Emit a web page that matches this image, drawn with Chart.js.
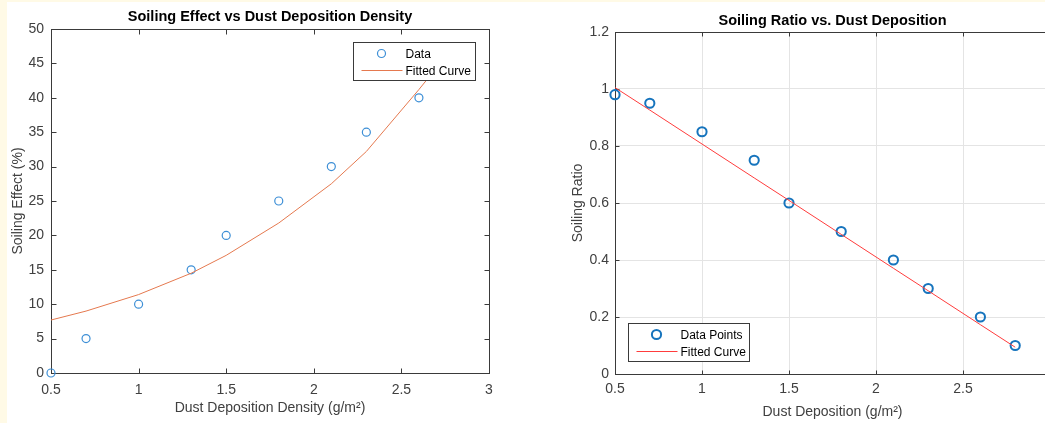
<!DOCTYPE html>
<html>
<head>
<meta charset="utf-8">
<title>Soiling charts</title>
<script src="https://cdn.jsdelivr.net/npm/chart.js@4/dist/chart.umd.min.js"></script>
<style>
  body { margin: 0; width: 1045px; height: 423px; overflow: hidden; position: relative; background: #fffae6; }
  #panel { position: absolute; left: 7px; top: 2px; right: 0; bottom: 0; background: #ffffff; }
  #effect-box { position: absolute; left: 0; top: 0; width: 520px; height: 423px; }
  #ratio-box { position: absolute; left: 530px; top: 0; width: 560px; height: 423px; }
</style>
</head>
<body>
<div id="panel"></div>
<div id="effect-box"><canvas id="effect-chart"></canvas></div>
<div id="ratio-box"><canvas id="ratio-chart"></canvas></div>
<script>
// Data
const depositX = [0.5, 0.7, 1.0, 1.3, 1.5, 1.8, 2.1, 2.3, 2.6, 2.8];
const soilingEffect = [0, 5, 10, 15, 20, 25, 30, 35, 40, 45];
const effectFit = [7.7, 9.0, 11.4, 14.5, 17.1, 21.8, 27.5, 32.2, 41.2, 47.5];
const soilingRatio = [0.98, 0.95, 0.85, 0.75, 0.6, 0.5, 0.4, 0.3, 0.2, 0.1];
const ratioFit = [1.005, 0.926, 0.807, 0.688, 0.609, 0.490, 0.371, 0.292, 0.173, 0.094];

const effectXTicks = [0.5, 1, 1.5, 2, 2.5, 3];
const effectYTicks = [0, 5, 10, 15, 20, 25, 30, 35, 40, 45, 50];
const ratioXTicks = [0.5, 1, 1.5, 2, 2.5];
const ratioYTicks = [0, 0.2, 0.4, 0.6, 0.8, 1, 1.2];

const toPoints = (xs, ys) => xs.map((x, i) => ({ x: x, y: ys[i] }));
const plainLabel = v => String(v);

Chart.defaults.font.family = "'Liberation Sans', Arial, Helvetica, sans-serif";
Chart.defaults.devicePixelRatio = 1;

// matlab style box with inward ticks
const boxAxes = {
    id: 'boxAxes',
    beforeDatasetsDraw(chart, args, opts) {
        const { ctx, chartArea: a, scales } = chart;
        const l = Math.round(a.left) + 0.5, r = Math.round(a.right) + 0.5;
        const t = Math.round(a.top) + 0.5, b = Math.round(a.bottom) + 0.5;
        const len = opts.tickLength || 5;
        ctx.save();
        ctx.strokeStyle = '#3a3a3a';
        ctx.lineWidth = 1;
        ctx.strokeRect(l, t, r - l, b - t);
        ctx.beginPath();
        scales.x.ticks.forEach(tk => {
            const px = Math.round(scales.x.getPixelForValue(tk.value)) + 0.5;
            ctx.moveTo(px, b); ctx.lineTo(px, b - len);
            ctx.moveTo(px, t); ctx.lineTo(px, t + len);
        });
        scales.y.ticks.forEach(tk => {
            const py = Math.round(scales.y.getPixelForValue(tk.value)) + 0.5;
            ctx.moveTo(l, py); ctx.lineTo(l + len, py);
            ctx.moveTo(r, py); ctx.lineTo(r - len, py);
        });
        ctx.stroke();
        ctx.restore();
    }
};

// legend box drawn inside the plot
const boxLegend = {
    id: 'boxLegend',
    afterDatasetsDraw(chart, args, opts) {
        const { ctx, chartArea: a } = chart;
        let left = opts.corner === 'topRight' ? a.right - opts.dx - opts.width : a.left + opts.dx;
        let top = opts.corner === 'topRight' ? a.top + opts.dy : a.bottom - opts.dy - opts.height;
        left = Math.round(left) + 0.5;
        top = Math.round(top) + 0.5;
        ctx.save();
        ctx.fillStyle = '#ffffff';
        ctx.fillRect(left, top, opts.width, opts.height);
        ctx.strokeStyle = '#3a3a3a';
        ctx.lineWidth = 1;
        ctx.strokeRect(left, top, opts.width, opts.height);
        ctx.font = "12px 'Liberation Sans', Arial, sans-serif";
        ctx.textBaseline = 'middle';
        chart.data.datasets.forEach((ds, i) => {
            const y = top + (i === 0 ? 11 : 28);
            ctx.strokeStyle = ds.borderColor;
            ctx.lineWidth = ds.borderWidth;
            ctx.beginPath();
            if (ds.showLine) {
                ctx.moveTo(left + 8, y);
                ctx.lineTo(left + 49, y);
            } else {
                ctx.arc(left + 28, y, ds.pointRadius, 0, Math.PI * 2);
            }
            ctx.stroke();
            ctx.fillStyle = '#000000';
            ctx.fillText(ds.label, left + 52, y + 1);
        });
        ctx.restore();
    }
};

const tickFont = { size: 14 };
const titleFont = { size: 14.5, weight: 'bold' };
const grey = '#404040';

// Soiling effect chart
const effectCanvas = document.getElementById('effect-chart');

let effectChart = new Chart(effectCanvas, {
    type: 'scatter',
    data: {
        datasets: [{
            label: 'Data',
            data: toPoints(depositX, soilingEffect),
            borderColor: '#3d8fd6',
            backgroundColor: 'rgba(0,0,0,0)',
            borderWidth: 1.2,
            pointRadius: 4,
            clip: false,
            order: 1
        }, {
            label: 'Fitted Curve',
            data: toPoints(depositX, effectFit),
            showLine: true,
            borderColor: '#e5794f',
            borderWidth: 1,
            pointRadius: 0,
            tension: 0,
            order: 0
        }]
    },
    options: {
        responsive: true,
        maintainAspectRatio: false,
        animation: false,
        layout: { padding: { left: 0, right: 31, top: 0, bottom: 0 } },
        plugins: {
            legend: { display: false },
            tooltip: { enabled: false },
            title: {
                display: true,
                fullSize: false,
                text: 'Soiling Effect vs Dust Deposition Density',
                color: '#000000',
                font: titleFont,
                padding: { top: 8.6, bottom: 3 }
            },
            boxAxes: { tickLength: 5 },
            boxLegend: { corner: 'topRight', dx: 14, dy: 13, width: 122, height: 38 }
        },
        scales: {
            x: {
                type: 'linear',
                min: 0.5,
                max: 3,
                afterBuildTicks: s => { s.ticks = effectXTicks.map(v => ({ value: v })); },
                afterFit: s => { s.height = 50; },
                ticks: { color: grey, font: tickFont, padding: 9, maxRotation: 0, autoSkip: false, callback: plainLabel },
                grid: { display: false, drawTicks: false },
                border: { display: false },
                title: { display: true, text: 'Dust Deposition Density (g/m²)', color: grey, font: tickFont, padding: { top: 0, bottom: 6 } }
            },
            y: {
                min: 0,
                max: 50,
                afterBuildTicks: s => { s.ticks = effectYTicks.map(v => ({ value: v })); },
                afterFit: s => { s.width = 51; },
                ticks: { color: grey, font: tickFont, padding: 7, autoSkip: false, callback: plainLabel },
                grid: { display: false, drawTicks: false },
                border: { display: false },
                title: { display: true, text: 'Soiling Effect (%)', color: grey, font: tickFont, padding: { top: 10, bottom: 0 } }
            }
        }
    },
    plugins: [boxAxes, boxLegend]
});

// Soiling ratio chart
const ratioCanvas = document.getElementById('ratio-chart');

let ratioChart = new Chart(ratioCanvas, {
    type: 'scatter',
    data: {
        datasets: [{
            label: 'Data Points',
            data: toPoints(depositX, soilingRatio),
            borderColor: '#1674bd',
            backgroundColor: 'rgba(0,0,0,0)',
            borderWidth: 2,
            pointRadius: 4.6,
            clip: false,
            order: 1
        }, {
            label: 'Fitted Curve',
            data: toPoints(depositX, ratioFit),
            showLine: true,
            borderColor: '#ff3c3c',
            borderWidth: 1,
            pointRadius: 0,
            tension: 0,
            order: 0
        }]
    },
    options: {
        responsive: true,
        maintainAspectRatio: false,
        animation: false,
        layout: { padding: { left: 0, right: 40, top: 0, bottom: 0 } },
        plugins: {
            legend: { display: false },
            tooltip: { enabled: false },
            title: {
                display: true,
                fullSize: false,
                text: 'Soiling Ratio vs. Dust Deposition',
                color: '#000000',
                font: titleFont,
                padding: { top: 11.9, bottom: 2.7 }
            },
            boxAxes: { tickLength: 4 },
            boxLegend: { corner: 'bottomLeft', dx: 13, dy: 13, width: 121, height: 38 }
        },
        scales: {
            x: {
                type: 'linear',
                min: 0.5,
                max: 3,
                afterBuildTicks: s => { s.ticks = ratioXTicks.map(v => ({ value: v })); },
                afterFit: s => { s.height = 49; },
                ticks: { color: grey, font: tickFont, padding: 7, maxRotation: 0, autoSkip: false, callback: plainLabel },
                grid: { display: true, color: '#e4e4e4', lineWidth: 1, drawTicks: false },
                border: { display: false },
                title: { display: true, text: 'Dust Deposition (g/m²)', color: grey, font: tickFont, padding: { top: 0, bottom: 2.6 } }
            },
            y: {
                min: 0,
                max: 1.2,
                afterBuildTicks: s => { s.ticks = ratioYTicks.map(v => ({ value: v })); },
                afterFit: s => { s.width = 85; },
                ticks: { color: grey, font: tickFont, padding: 6, autoSkip: false, callback: plainLabel },
                grid: { display: true, color: '#e4e4e4', lineWidth: 1, drawTicks: false },
                border: { display: false },
                title: { display: true, text: 'Soiling Ratio', color: grey, font: tickFont, padding: { top: 39.6, bottom: 0 } }
            }
        }
    },
    plugins: [boxAxes, boxLegend]
});
</script>
</body>
</html>
